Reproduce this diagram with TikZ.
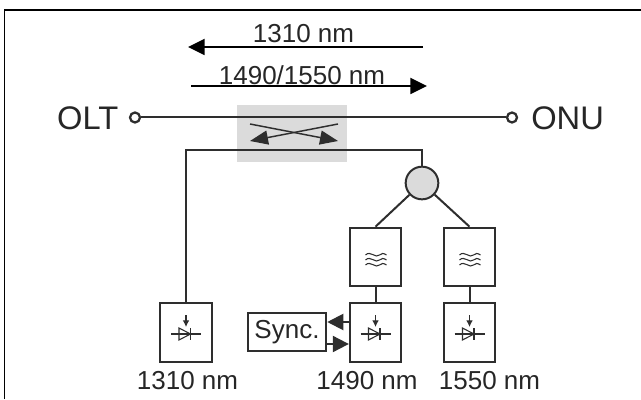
\documentclass[tikz,border=0pt]{standalone}
\usepackage{fontspec}
\setmainfont{Liberation Sans}
\usepackage{tikz}
\usetikzlibrary{arrows.meta, positioning}
\definecolor{darkline}{gray}{0.18}
\definecolor{couplergray}{gray}{0.86}
\tikzset{
  wire/.style={draw=darkline, line width=1.5pt},
  flow/.style={draw=black, line width=1.4pt, -{Triangle[length=12.5pt,width=12pt]}},
  port/.style={circle, draw=darkline, line width=1.7pt, fill=white, inner sep=0pt, minimum size=7.5pt},
  blockbox/.style={rectangle, draw=darkline, line width=1.5pt, fill=white, inner sep=0pt, minimum width=38.5pt, minimum height=44pt},
  biglabel/.style={font=\fontsize{24.5}{25}\selectfont, text=black!85, inner sep=0pt},
  smalllabel/.style={font=\fontsize{19.5}{20}\selectfont, text=black!85, inner sep=0pt},
  thinline/.style={draw=darkline, line width=0.8pt},
}
\begin{document}
\begin{tikzpicture}[x=0.75pt, y=-0.75pt]
    \useasboundingbox (0,0) rectangle (641,399);
    \draw [line width=1pt] (4.5,399) -- (4.5,10) -- (641,10);
    % coupler
    \node (coupler) [rectangle, fill=couplergray, minimum width=82.5pt, minimum height=43pt, inner sep=0pt] at (292,133.5) {};
    % ports and main line
    \node (oltport) [port] at (135,117.5) {};
    \node (onuport) [port] at (512,117.5) {};
    \draw [wire] (oltport) -- (onuport);
    \node (olt) [biglabel, anchor=east] at (118.5,118.5) {OLT};
    \node (onu) [biglabel, anchor=west] at (531,118.5) {ONU};
    % direction arrows
    \coordinate (upstart) at (423,47);
    \coordinate (upend) at (188,47);
    \coordinate (downstart) at (191,86);
    \coordinate (downend) at (427,86);
    \draw [flow] (upstart) -- (upend);
    \draw [flow] (downstart) -- (downend);
    \node (uplabel) [smalllabel] at (303.5,33.5) {1310 nm};
    \node (downlabel) [smalllabel] at (302,75.5) {1490/1550 nm};
    % crossing arrows
    \coordinate (crossa) at (250,124);
    \coordinate (crossb) at (338,141);
    \coordinate (crossc) at (338,124);
    \coordinate (crossd) at (250,141);
    \draw [line width=1.1pt, draw=darkline, -{Triangle[length=13.5pt,width=10.5pt]}] (crossa) -- (crossb);
    \draw [line width=1.1pt, draw=darkline, -{Triangle[length=13.5pt,width=10.5pt]}] (crossc) -- (crossd);
    % blocks
    \node (splitter) [circle, draw=darkline, line width=1.5pt, fill=couplergray, inner sep=0pt, minimum size=24.5pt] at (422,183) {};
    \node (filtera) [blockbox] at (375.5,257) {};
    \node (filterb) [blockbox] at (469.5,257) {};
    \node (diodea) [blockbox] at (186,332.5) {};
    \node (diodeb) [blockbox] at (375.5,332.5) {};
    \node (diodec) [blockbox] at (469.5,332.5) {};
    \node (sync) [rectangle, draw=darkline, line width=1.4pt, fill=white, inner sep=0pt, minimum width=59pt, minimum height=29pt, font=\fontsize{19.5}{20}\selectfont, text=black!85] at (287,332) {Sync.};
    % connections
    \coordinate (bend) at (186,149.5);
    \draw [wire] (diodea.north) -- (bend) -| (splitter.north);
    \draw [wire] (splitter) -- (filtera.north);
    \draw [wire] (splitter) -- (filterb.north);
    \draw [wire] (filtera.south) -- (diodeb.north);
    \draw [wire] (filterb.south) -- (diodec.north);
    \draw [wire, -{Triangle[length=12pt,width=12pt]}] (diodeb.west |- 0,322) -- (sync.east |- 0,322);
    \draw [wire, -{Triangle[length=12pt,width=12pt]}] (sync.east |- 0,344) -- (diodeb.west |- 0,344);
    % symbols
    \foreach \name in {filtera, filterb} {
      \begin{scope}[shift={(\name.center)}]
        \foreach \off in {-2,3,8} {
          \draw [thinline] (-10,\off) .. controls (-5,\off-5) and (0,\off+4) .. (4,\off) .. controls (6,\off-2) and (8,\off-2) .. (11,\off);
        }
      \end{scope}
    }
    \foreach \name in {diodea, diodeb, diodec} {
      \begin{scope}[shift={(\name.center)}]
        \draw [thinline] (-15,1.5) -- (15,1.5);
        \draw [thinline] (-7,-4.5) -- (4.5,1.5) -- (-7,7.5) -- cycle;
        \draw [thinline] (4.5,-4.5) -- (4.5,7.5);
        \draw [thinline, -{Latex[length=5pt,width=5pt]}] (0,-17.5) -- (0,-5.5);
      \end{scope}
    }
    \node (labela) [smalllabel] at (187.5,381) {1310 nm};
    \node (labelb) [smalllabel] at (367,381) {1490 nm};
    \node (labelc) [smalllabel] at (489.5,381) {1550 nm};
  \end{tikzpicture}
\end{document}
